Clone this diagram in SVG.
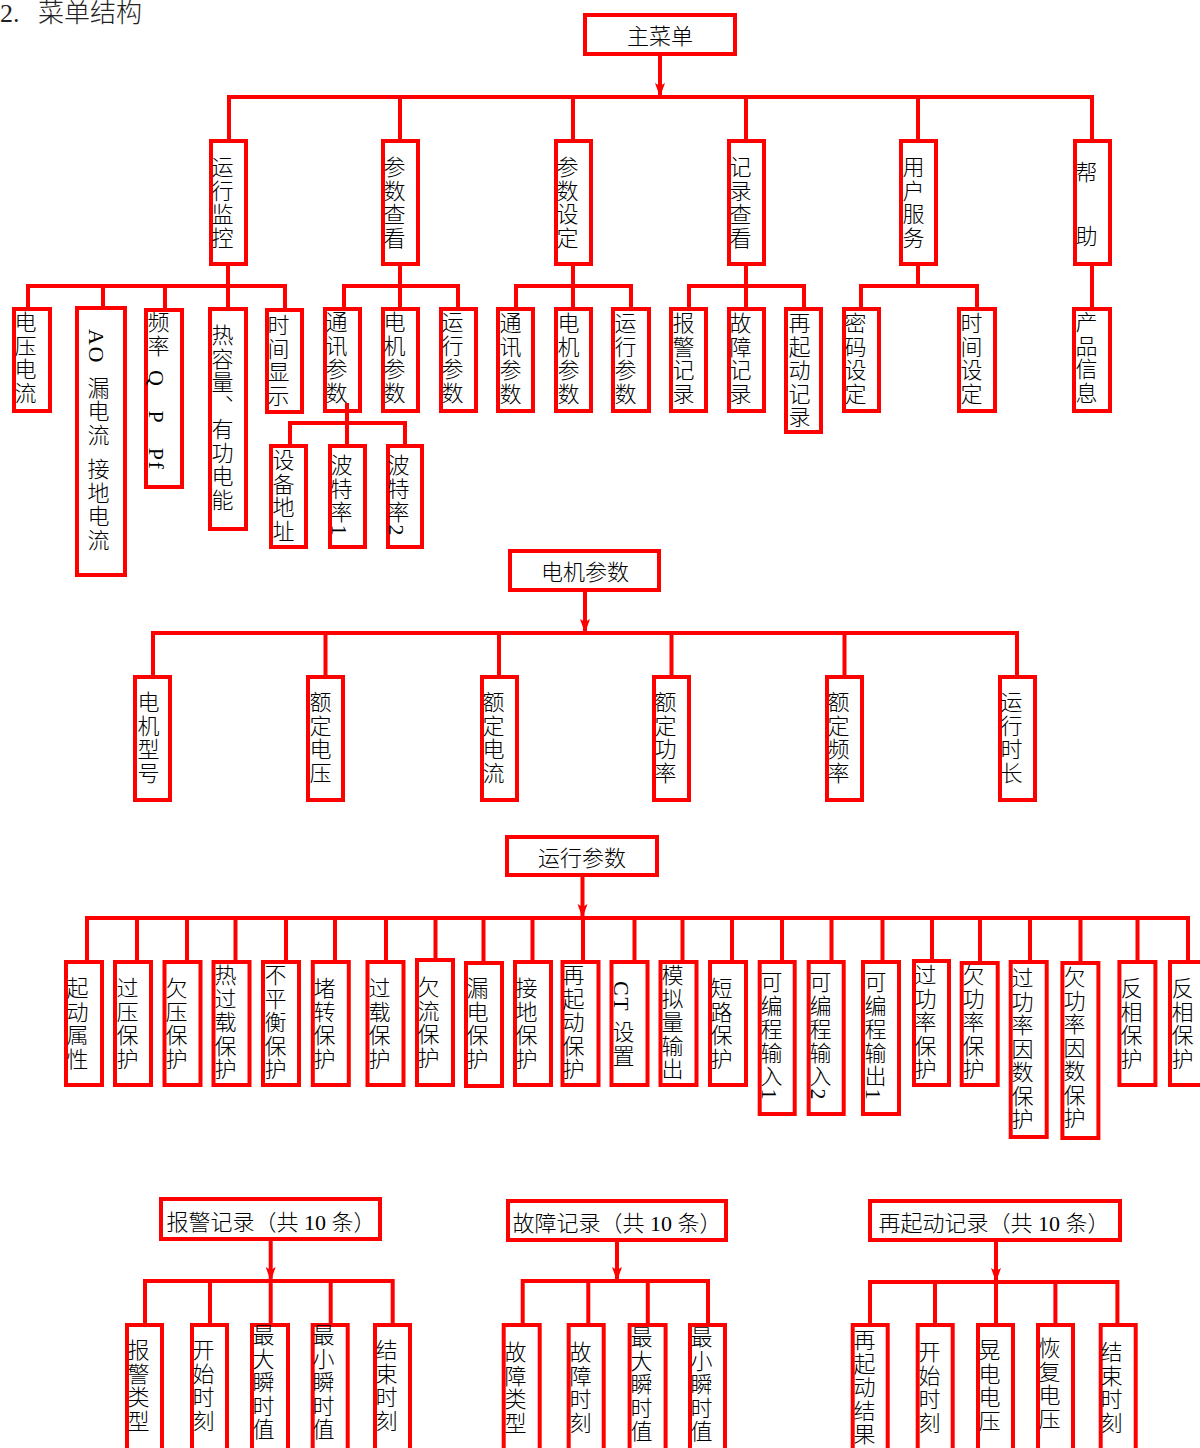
<svg xmlns="http://www.w3.org/2000/svg" width="1200" height="1448" viewBox="0 0 1200 1448">
<style>
.bx{fill:none;stroke:#ff0000;stroke-width:4}
.ln{fill:none;stroke:#ff0000;stroke-width:4}
.v{font-family:'Liberation Serif','Noto Sans CJK SC',serif;font-size:22px;font-weight:300;writing-mode:vertical-rl;letter-spacing:1.5px;fill:#000}
.t{font-family:'Liberation Serif','Noto Sans CJK SC',serif;font-size:22px;font-weight:300;text-anchor:middle;fill:#000}
.hd{font-family:'Liberation Serif','Noto Sans CJK SC',serif;font-size:26px;font-weight:300;fill:#222}
</style>
<defs>
<marker id="ar" markerUnits="userSpaceOnUse" markerWidth="16" markerHeight="12" refX="14" refY="5" orient="auto">
<path d="M0,0 L14,5 L0,10 L3,5 z" fill="#ff0000"/>
</marker>
</defs>
<rect width="1200" height="1448" fill="#fff"/>
<text class="hd" x="0" y="22">2.</text>
<text class="hd" x="38" y="22">菜单结构</text>

<g id="connectors">
<!-- section 1 -->
<path class="ln" d="M660 56 V97" marker-end="url(#ar)"/>
<path class="ln" d="M229 139 V97 H1092 V139 M400 97 V139 M573 97 V139 M746 97 V139 M918 97 V139"/>
<path class="ln" d="M228 266 V286 M28 307 V286 H285 V308 M103 286 V306 M165 286 V308 M228 286 V307"/>
<path class="ln" d="M400 266 V286 M344 307 V286 H458 V307 M400 286 V307"/>
<path class="ln" d="M347 403 V423 M290 444 V423 H405 V444 M347 423 V444"/>
<path class="ln" d="M573 266 V286 M516 307 V286 H631 V307 M573 286 V307"/>
<path class="ln" d="M746 266 V286 M689 307 V286 H804 V307 M746 286 V307"/>
<path class="ln" d="M918 266 V286 M861 307 V286 H977 V307"/>
<path class="ln" d="M1092 266 V307"/>
<!-- section 2 -->
<path class="ln" d="M585 592 V633" marker-end="url(#ar)"/>
<path class="ln" d="M153 675 V633 H1017 V675 M325.5 633 V675 M499 633 V675 M671.5 633 V675 M844.5 633 V675"/>
<!-- section 3 -->
<path class="ln" d="M582.5 877 V918" marker-end="url(#ar)"/>
<path class="ln" d="M87 960 V918 H1188 V960 M137 918 V960 M187 918 V960 M235.5 918 V960 M286 918 V960 M335 918 V960 M386 918 V960 M435.5 918 V958 M483.5 918 V961 M532.5 918 V960 M583 918 V960 M634.5 918 V960 M682.5 918 V960 M732 918 V960 M782 918 V960 M831.5 918 V960 M882.5 918 V960 M932 918 V959 M980 918 V961 M1030 918 V960 M1080.5 918 V961 M1137.5 918 V960"/>
<!-- section 4 -->
<path class="ln" d="M270.7 1241 V1281" marker-end="url(#ar)"/>
<path class="ln" d="M145 1323 V1281 H392.7 V1323 M210 1281 V1323 M270.7 1281 V1323 M330.7 1281 V1323"/>
<path class="ln" d="M617 1242 V1281" marker-end="url(#ar)"/>
<path class="ln" d="M522.7 1323 V1281 H708 V1323 M588.3 1281 V1323 M647.8 1281 V1323"/>
<path class="ln" d="M996 1242 V1282" marker-end="url(#ar)"/>
<path class="ln" d="M870 1323 V1282 H1117.4 V1323 M935 1282 V1323 M996 1282 V1323 M1055.4 1282 V1323"/>
</g>

<!-- section 1 nodes -->
<g id="n-main"><rect class="bx" x="585" y="15" width="150" height="39"/><text class="t" x="660" y="44">主菜单</text></g>
<g id="n-yxjk"><rect class="bx" x="211" y="141" width="35" height="123"/><text class="v" x="220" y="156">运行监控</text></g>
<g id="n-csck"><rect class="bx" x="383" y="141" width="35" height="123"/><text class="v" x="392" y="156">参数查看</text></g>
<g id="n-cssd"><rect class="bx" x="556" y="141" width="35" height="123"/><text class="v" x="565" y="156">参数设定</text></g>
<g id="n-jlck"><rect class="bx" x="729" y="141" width="35" height="123"/><text class="v" x="738" y="156">记录查看</text></g>
<g id="n-yhfw"><rect class="bx" x="901" y="141" width="35" height="123"/><text class="v" x="911" y="156">用户服务</text></g>
<g id="n-bz"><rect class="bx" x="1075" y="141" width="35" height="123"/><text class="v" x="1084"><tspan y="161">帮</tspan><tspan y="224">助</tspan></text></g>

<g id="n-dydl"><rect class="bx" x="14" y="309" width="36" height="102"/><text class="v" x="23" y="311">电压电流</text></g>
<g id="n-ao"><rect class="bx" x="77" y="308" width="48" height="267"/><text class="v" x="96"><tspan y="329">AO</tspan><tspan y="376">漏电流</tspan><tspan y="458">接地电流</tspan></text></g>
<g id="n-pl"><rect class="bx" x="146" y="310" width="36" height="177"/><text class="v" x="156"><tspan y="311">频率</tspan><tspan y="370">Q</tspan><tspan y="411">P</tspan><tspan y="448">Pf</tspan></text></g>
<g id="n-rrl"><rect class="bx" x="210" y="309" width="36" height="220"/><text class="v" x="220" y="324">热容量、有功电能</text></g>
<g id="n-sjxs"><rect class="bx" x="267" y="310" width="35" height="102"/><text class="v" x="276" y="314">时间显示</text></g>
<g id="n-txcs1"><rect class="bx" x="325" y="309" width="35" height="102"/><text class="v" x="334" y="311">通讯参数</text></g>
<g id="n-djcs1"><rect class="bx" x="383" y="309" width="35" height="102"/><text class="v" x="392" y="311">电机参数</text></g>
<g id="n-yxcs1"><rect class="bx" x="441" y="309" width="35" height="102"/><text class="v" x="450" y="311">运行参数</text></g>
<g id="n-sbdz"><rect class="bx" x="271" y="446" width="35" height="101"/><text class="v" x="281" y="449">设备地址</text></g>
<g id="n-btl1"><rect class="bx" x="330" y="446" width="35" height="101"/><text class="v" x="339" y="454">波特率1</text></g>
<g id="n-btl2"><rect class="bx" x="388" y="446" width="34" height="101"/><text class="v" x="396" y="454">波特率2</text></g>
<g id="n-txcs2"><rect class="bx" x="498" y="309" width="35" height="102"/><text class="v" x="508" y="312">通讯参数</text></g>
<g id="n-djcs2"><rect class="bx" x="556" y="309" width="35" height="102"/><text class="v" x="566" y="312">电机参数</text></g>
<g id="n-yxcs2"><rect class="bx" x="613" y="309" width="36" height="102"/><text class="v" x="623" y="312">运行参数</text></g>
<g id="n-bjjl"><rect class="bx" x="671" y="309" width="35" height="102"/><text class="v" x="681" y="312">报警记录</text></g>
<g id="n-gzjl"><rect class="bx" x="729" y="309" width="35" height="102"/><text class="v" x="738" y="312">故障记录</text></g>
<g id="n-zqdjl"><rect class="bx" x="786" y="309" width="35" height="123"/><text class="v" x="797" y="312">再起动记录</text></g>
<g id="n-mmsd"><rect class="bx" x="844" y="309" width="35" height="102"/><text class="v" x="853" y="312">密码设定</text></g>
<g id="n-sjsd"><rect class="bx" x="959" y="309" width="36" height="102"/><text class="v" x="969" y="312">时间设定</text></g>
<g id="n-cpxx"><rect class="bx" x="1074" y="309" width="36" height="102"/><text class="v" x="1084" y="311">产品信息</text></g>

<!-- section 2 nodes -->
<g id="n-djcs"><rect class="bx" x="510" y="551" width="149" height="39"/><text class="t" x="585" y="580">电机参数</text></g>
<g id="n-djxh"><rect class="bx" x="135" y="677" width="35" height="123"/><text class="v" x="146" y="691">电机型号</text></g>
<g id="n-eddy"><rect class="bx" x="308" y="677" width="35" height="123"/><text class="v" x="318" y="691">额定电压</text></g>
<g id="n-eddl"><rect class="bx" x="482" y="677" width="35" height="123"/><text class="v" x="491" y="691">额定电流</text></g>
<g id="n-edgl"><rect class="bx" x="654" y="677" width="35" height="123"/><text class="v" x="663" y="691">额定功率</text></g>
<g id="n-edpl"><rect class="bx" x="827" y="677" width="35" height="123"/><text class="v" x="836" y="691">额定频率</text></g>
<g id="n-yxsc"><rect class="bx" x="1000" y="677" width="35" height="123"/><text class="v" x="1009" y="691">运行时长</text></g>

<!-- section 3 nodes -->
<g id="n-yxcs"><rect class="bx" x="507" y="837" width="150" height="38"/><text class="t" x="582" y="866">运行参数</text></g>
<g id="n-qdsx"><rect class="bx" x="66" y="962" width="36" height="123"/><text class="v" x="75" y="977">起动属性</text></g>
<g id="n-gybh"><rect class="bx" x="115" y="962" width="36" height="123"/><text class="v" x="125" y="977">过压保护</text></g>
<g id="n-qybh"><rect class="bx" x="164.5" y="962" width="36" height="123"/><text class="v" x="174" y="977">欠压保护</text></g>
<g id="n-rgzbh"><rect class="bx" x="213.5" y="962" width="36" height="123"/><text class="v" x="223" y="964">热过载保护</text></g>
<g id="n-bphbh"><rect class="bx" x="263" y="962" width="36" height="123"/><text class="v" x="273" y="964">不平衡保护</text></g>
<g id="n-dzbh"><rect class="bx" x="312.8" y="962" width="36" height="123"/><text class="v" x="322" y="977">堵转保护</text></g>
<g id="n-gzbh"><rect class="bx" x="367.5" y="962" width="36" height="123"/><text class="v" x="377" y="977">过载保护</text></g>
<g id="n-qlbh"><rect class="bx" x="417" y="960" width="36" height="125"/><text class="v" x="426" y="976">欠流保护</text></g>
<g id="n-ldbh"><rect class="bx" x="466" y="963" width="36" height="123"/><text class="v" x="475" y="977">漏电保护</text></g>
<g id="n-jdbh"><rect class="bx" x="515" y="962" width="36" height="123"/><text class="v" x="524" y="977">接地保护</text></g>
<g id="n-zqdbh"><rect class="bx" x="562.5" y="962" width="36" height="123"/><text class="v" x="571" y="964">再起动保护</text></g>
<g id="n-ctsz"><rect class="bx" x="611.5" y="962" width="36" height="123"/><text class="v" x="621"><tspan y="981">CT</tspan><tspan y="1021">设置</tspan></text></g>
<g id="n-mnlsc"><rect class="bx" x="660.5" y="962" width="36" height="123"/><text class="v" x="670" y="964">模拟量输出</text></g>
<g id="n-dlbh"><rect class="bx" x="710" y="962" width="36" height="123"/><text class="v" x="719" y="977">短路保护</text></g>
<g id="n-kbcsr1"><rect class="bx" x="759.7" y="962" width="35" height="152"/><text class="v" x="769" y="971">可编程输入1</text></g>
<g id="n-kbcsr2"><rect class="bx" x="808.7" y="962" width="35" height="152"/><text class="v" x="818" y="971">可编程输入2</text></g>
<g id="n-kbcsc1"><rect class="bx" x="863" y="962" width="36" height="152"/><text class="v" x="873" y="971">可编程输出1</text></g>
<g id="n-jglbh"><rect class="bx" x="914" y="961" width="35" height="124"/><text class="v" x="923" y="964">过功率保护</text></g>
<g id="n-qglbh"><rect class="bx" x="961.7" y="963" width="36" height="122"/><text class="v" x="971" y="964">欠功率保护</text></g>
<g id="n-gglys"><rect class="bx" x="1010.7" y="962" width="36" height="175"/><text class="v" x="1020" y="967">过功率因数保护</text></g>
<g id="n-qglys"><rect class="bx" x="1062.4" y="963" width="36" height="175"/><text class="v" x="1072" y="966">欠功率因数保护</text></g>
<g id="n-fxbh1"><rect class="bx" x="1119.4" y="962" width="36" height="123"/><text class="v" x="1129" y="977">反相保护</text></g>
<g id="n-fxbh2"><rect class="bx" x="1170" y="962" width="36" height="123"/><text class="v" x="1180" y="977">反相保护</text></g>

<!-- section 4 nodes -->
<g id="n-bjjl10"><rect class="bx" x="161" y="1199" width="219" height="40"/><text class="t" x="271" y="1230">报警记录（共 10 条）</text></g>
<g id="n-bjlx"><rect class="bx" x="127" y="1325" width="35" height="140"/><text class="v" x="136" y="1339">报警类型</text></g>
<g id="n-kssk1"><rect class="bx" x="192" y="1325" width="35" height="140"/><text class="v" x="201" y="1339">开始时刻</text></g>
<g id="n-zdss1"><rect class="bx" x="252" y="1325" width="36" height="140"/><text class="v" x="261" y="1324">最大瞬时值</text></g>
<g id="n-zxss1"><rect class="bx" x="312.7" y="1325" width="35" height="140"/><text class="v" x="321" y="1324">最小瞬时值</text></g>
<g id="n-jssk1"><rect class="bx" x="375" y="1325" width="35" height="140"/><text class="v" x="384" y="1339">结束时刻</text></g>

<g id="n-gzjl10"><rect class="bx" x="508" y="1201" width="218" height="39"/><text class="t" x="617" y="1231">故障记录（共 10 条）</text></g>
<g id="n-gzlx"><rect class="bx" x="503.7" y="1325" width="36" height="140"/><text class="v" x="513" y="1341">故障类型</text></g>
<g id="n-gzsk"><rect class="bx" x="568.7" y="1325" width="35" height="140"/><text class="v" x="578" y="1341">故障时刻</text></g>
<g id="n-zdss2"><rect class="bx" x="629.6" y="1325" width="36" height="140"/><text class="v" x="639" y="1326">最大瞬时值</text></g>
<g id="n-zxss2"><rect class="bx" x="690" y="1325" width="35" height="140"/><text class="v" x="699" y="1326">最小瞬时值</text></g>

<g id="n-zqdjl10"><rect class="bx" x="870" y="1201" width="250" height="39"/><text class="t" x="994" y="1231">再起动记录（共 10 条）</text></g>
<g id="n-zqdjg"><rect class="bx" x="852.7" y="1325" width="35" height="140"/><text class="v" x="862" y="1329">再起动结果</text></g>
<g id="n-kssk3"><rect class="bx" x="917.7" y="1325" width="35" height="140"/><text class="v" x="927" y="1341">开始时刻</text></g>
<g id="n-hddy"><rect class="bx" x="978" y="1325" width="35" height="140"/><text class="v" x="987" y="1339">晃电电压</text></g>
<g id="n-hfdy"><rect class="bx" x="1038" y="1325" width="35" height="140"/><text class="v" x="1047" y="1337">恢复电压</text></g>
<g id="n-jssk3"><rect class="bx" x="1100.7" y="1325" width="35" height="140"/><text class="v" x="1109" y="1341">结束时刻</text></g>
</svg>
